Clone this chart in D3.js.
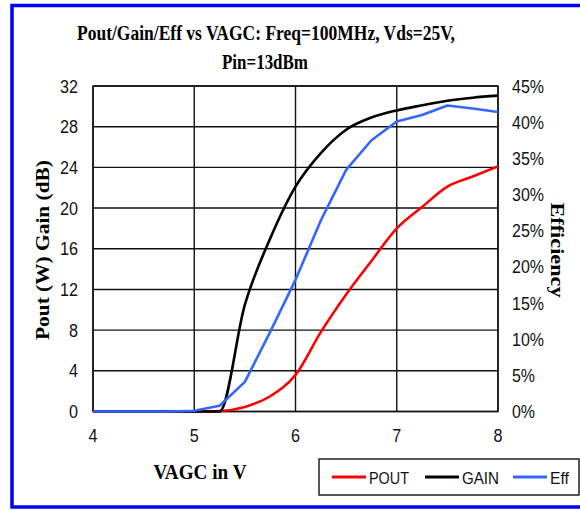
<!DOCTYPE html>
<html><head><meta charset="utf-8">
<script src="https://cdn.jsdelivr.net/npm/d3@7"></script>
<style>body{margin:0;background:#fff}</style>
</head><body>
<script>
const vagc = [4.0,4.25,4.5,4.75,5.0,5.25,5.5,5.75,6.0,6.25,6.5,6.75,7.0,7.25,7.5,7.75,8.0];
const pout = [0,0,0,0,0,0.05,0.45,1.5,3.6,7.8,11.5,14.8,18.0,20.1,22.1,23.1,24.1];
const gain = [0,0,0,0,0,0,10.5,17.0,22.1,25.4,27.7,28.9,29.6,30.1,30.55,30.85,31.05];
const eff  = [0,0,0,0,0.1,0.8,4.1,11.0,18.2,26.4,33.4,37.5,40.1,41.0,42.3,41.9,41.4];
const xTicks = [4,5,6,7,8];
const yTicks = [0,4,8,12,16,20,24,28,32];
const effTicks = [0,5,10,15,20,25,30,35,40,45];
const seriesNames = ["POUT","GAIN","Eff"];
const seriesColors = ["#ff0000","#000000","#3366ff"];

const W=580,H=510;
const svg=d3.select("body").append("svg").attr("width",W).attr("height",H);
const L=93,R=498,T=86,B=411.5;
const x=d3.scaleLinear().domain([4,8]).range([L,R]);
const y=d3.scaleLinear().domain([0,32]).range([B,T]);
const y2=d3.scaleLinear().domain([0,45]).range([B,T]);

svg.append("rect").attr("x",12).attr("y",5.5).attr("width",600).attr("height",501.5)
  .attr("fill","none").attr("stroke","#0000ff").attr("stroke-width",3.5);

const serif="'Liberation Serif','Times New Roman',serif";
const sans="'Liberation Sans',Arial,sans-serif";
svg.append("text").attr("x",266).attr("y",40).attr("text-anchor","middle")
  .attr("font-family",serif).attr("font-weight","bold").attr("font-size",21.5)
  .attr("textLength",378).attr("lengthAdjust","spacingAndGlyphs")
  .text("Pout/Gain/Eff vs VAGC: Freq=100MHz, Vds=25V,");
svg.append("text").attr("x",265).attr("y",68.5).attr("text-anchor","middle")
  .attr("font-family",serif).attr("font-weight","bold").attr("font-size",21.5)
  .attr("textLength",86).attr("lengthAdjust","spacingAndGlyphs")
  .text("Pin=13dBm");

const g=svg.append("g");
g.selectAll(".hg").data(yTicks).join("line")
  .attr("x1",L).attr("x2",R).attr("y1",d=>y(d)).attr("y2",d=>y(d))
  .attr("stroke","#111").attr("stroke-width",1.4);
g.selectAll(".vg").data(xTicks).join("line")
  .attr("y1",T).attr("y2",B).attr("x1",d=>x(d)).attr("x2",d=>x(d))
  .attr("stroke","#111").attr("stroke-width",1.4);
g.append("rect").attr("x",L).attr("y",T).attr("width",R-L).attr("height",B-T)
  .attr("fill","none").attr("stroke","#111").attr("stroke-width",1.4);

const tl=s=>String(s).replace("%","").length*9+(String(s).includes("%")?14:0);
svg.selectAll(".yl").data(yTicks).join("text")
  .attr("x",78).attr("y",d=>y(d)+6.5).attr("text-anchor","end")
  .attr("font-family",sans).attr("font-size",18).attr("fill","#111")
  .attr("textLength",d=>tl(d)).attr("lengthAdjust","spacingAndGlyphs").text(d=>d);
svg.selectAll(".y2l").data(effTicks).join("text")
  .attr("x",512).attr("y",d=>y2(d)+6.5).attr("text-anchor","start")
  .attr("font-family",sans).attr("font-size",18).attr("fill","#111")
  .attr("textLength",d=>tl(d+"%")).attr("lengthAdjust","spacingAndGlyphs").text(d=>d+"%");
svg.selectAll(".xl").data(xTicks).join("text")
  .attr("x",d=>x(d)).attr("y",441.5).attr("text-anchor","middle")
  .attr("font-family",sans).attr("font-size",18).attr("fill","#111")
  .attr("textLength",d=>tl(d)).attr("lengthAdjust","spacingAndGlyphs").text(d=>d);

svg.append("text").attr("transform","translate(49,250) rotate(-90)")
  .attr("text-anchor","middle").attr("font-family",serif).attr("font-weight","bold")
  .attr("font-size",19).attr("textLength",180).attr("lengthAdjust","spacingAndGlyphs")
  .text("Pout (W) Gain (dB)");
svg.append("text").attr("transform","translate(551,250) rotate(90)")
  .attr("text-anchor","middle").attr("font-family",serif).attr("font-weight","bold")
  .attr("font-size",19).attr("textLength",95).attr("lengthAdjust","spacingAndGlyphs")
  .text("Efficiency");
svg.append("text").attr("x",200).attr("y",479).attr("text-anchor","middle")
  .attr("font-family",serif).attr("font-weight","bold").attr("font-size",20)
  .attr("textLength",93).attr("lengthAdjust","spacingAndGlyphs")
  .text("VAGC in V");

const smooth=d3.curveMonotoneX;
svg.append("path").datum(pout)
  .attr("d",d3.line().x((d,i)=>x(vagc[i])).y(d=>y(d)).curve(smooth)).attr("fill","none")
  .attr("stroke",seriesColors[0]).attr("stroke-width",2.6).attr("stroke-linejoin","round");
svg.append("path").datum(gain)
  .attr("d",d3.line().x((d,i)=>x(vagc[i])).y(d=>y(d)).curve(smooth)).attr("fill","none")
  .attr("stroke",seriesColors[1]).attr("stroke-width",2.6).attr("stroke-linejoin","round");
svg.append("path").datum(eff)
  .attr("d",d3.line().x((d,i)=>x(vagc[i])).y(d=>y2(d))).attr("fill","none")
  .attr("stroke",seriesColors[2]).attr("stroke-width",2.6).attr("stroke-linejoin","round");

svg.append("rect").attr("x",319).attr("y",459).attr("width",260).attr("height",36)
  .attr("fill","#fff").attr("stroke","#111").attr("stroke-width",1.4);
const lx=[332,425,513];
const lw=[40,37,19];
seriesNames.forEach((n,i)=>{
  svg.append("line").attr("x1",lx[i]).attr("x2",lx[i]+34).attr("y1",477).attr("y2",477)
    .attr("stroke",seriesColors[i]).attr("stroke-width",2.8);
  svg.append("text").attr("x",lx[i]+37).attr("y",483.5).attr("font-family",sans)
    .attr("font-size",17).attr("fill","#111")
    .attr("textLength",lw[i]).attr("lengthAdjust","spacingAndGlyphs").text(n);
});
</script>
</body></html>
